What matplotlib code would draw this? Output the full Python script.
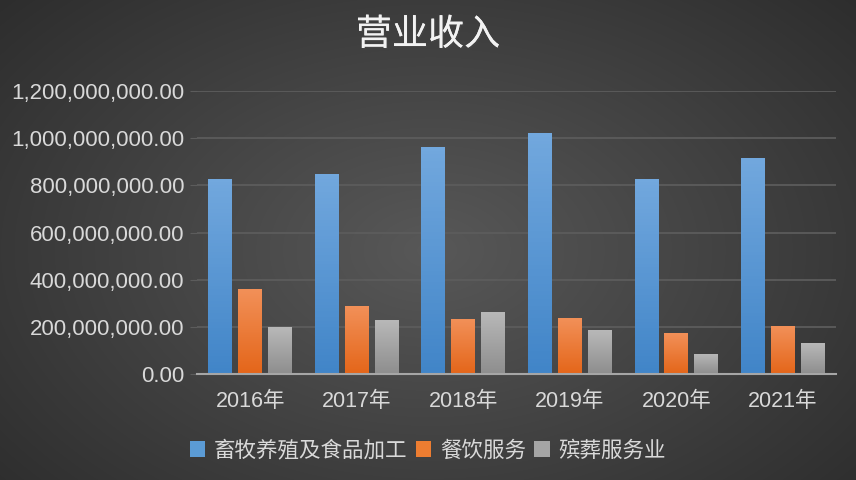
import numpy as np
import matplotlib.pyplot as plt
import matplotlib.patheffects as pe
from matplotlib.ticker import FuncFormatter

plt.rcParams['font.family'] = ['Liberation Sans', 'Noto Sans CJK SC', 'DejaVu Sans']

years = ['2016年', '2017年', '2018年', '2019年', '2020年', '2021年']
series_names = ['畜牧养殖及食品加工', '餐饮服务', '殡葬服务业']
livestock = [826e6, 849e6, 963e6, 1022e6, 826e6, 917e6]
catering = [360e6, 288e6, 233e6, 237e6, 174e6, 203e6]
funeral = [199e6, 229e6, 263e6, 186e6, 85e6, 131e6]

# gradient colours (top, bottom) for each series
grads = [('#72a8de', '#4185c8'), ('#f29058', '#e4661a'), ('#b8b8b8', '#8e8e8e')]
legend_cols = ['#5b9bd5', '#ed7d31', '#a5a5a5']

fig = plt.figure(figsize=(8.56, 4.8), dpi=100)

# radial background
bg = fig.add_axes([0, 0, 1, 1], zorder=-10)
yy, xx = np.mgrid[0:480, 0:856]
r = np.sqrt(((xx - 430) / 856) ** 2 + ((yy - 250) / 560) ** 2)
shade = np.clip(0.345 - 0.25 * r, 0.17, 0.345)
bg.imshow(np.dstack([shade] * 3), aspect='auto', extent=[0, 1, 0, 1])
bg.axis('off')

ax = fig.add_axes([0.230, 0.221, 0.747, 0.589])
ax.patch.set_alpha(0)

x = np.arange(len(years))
width = 0.225
offset = 0.28
for i, vals in enumerate([livestock, catering, funeral]):
    bars = ax.bar(x + (i - 1) * offset, vals, width, color=legend_cols[i],
                  label=series_names[i], zorder=3)
    top, bot = grads[i]
    cmap = plt.matplotlib.colors.LinearSegmentedColormap.from_list('g', [bot, top])
    for b in bars:
        x0, y0 = b.get_x(), b.get_y()
        im = ax.imshow(np.linspace(0, 1, 64).reshape(-1, 1), cmap=cmap, origin='lower',
                       aspect='auto', extent=[x0, x0 + b.get_width(), y0, y0 + b.get_height()],
                       zorder=3.5)
        im.set_clip_path(b)

ax.set_xlim(-0.5, len(years) - 0.5)
ax.set_ylim(0, 1.2e9)
ax.set_yticks(np.arange(0, 1.2e9 + 1, 2e8))
ax.yaxis.set_major_formatter(FuncFormatter(lambda v, p: f'{v:,.2f}'))
ax.set_xticks(x)
ax.set_xticklabels(years)
ax.grid(axis='y', color='#5c5c5c', linewidth=1.3, zorder=0)
for s in ['top', 'right', 'left']:
    ax.spines[s].set_visible(False)
ax.spines['bottom'].set_color('#a6a6a6')
ax.spines['bottom'].set_linewidth(1.5)
ax.spines['bottom'].set_zorder(5)
ax.tick_params(axis='y', colors='#5c5c5c', labelcolor='#d9d9d9', labelsize=16, length=5, pad=4)
ax.tick_params(axis='x', length=0, labelcolor='#d9d9d9', labelsize=15.5, pad=12)

fig.text(0.5, 1 - 35 / 480, '营业收入', ha='center', va='center', color='#f2f2f2',
         fontsize=26, family=['Noto Sans CJK SC'],
         path_effects=[pe.withSimplePatchShadow(offset=(1, -1), alpha=0.5), pe.Normal()])

leg = fig.legend(loc='center', bbox_to_anchor=(0.5, 1 - 451 / 480), ncol=3, frameon=False,
                 fontsize=15.5, handlelength=0.7, handleheight=0.7, handletextpad=0.4,
                 columnspacing=0.4, labelcolor='#d9d9d9')

fig.savefig('out.png', dpi=100)
